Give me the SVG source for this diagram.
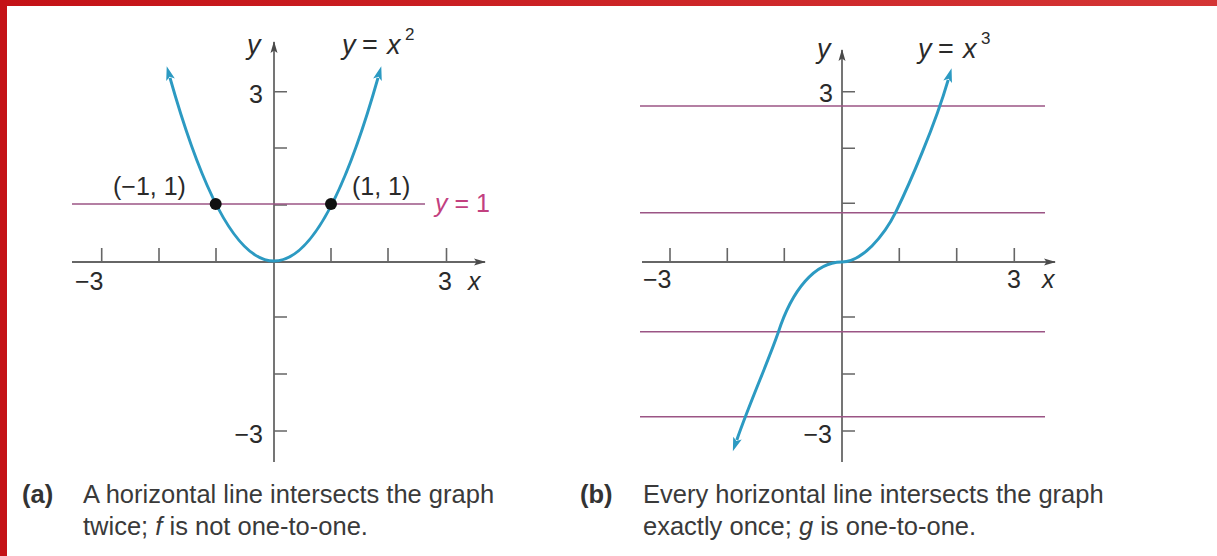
<svg xmlns="http://www.w3.org/2000/svg" width="1217" height="556" viewBox="0 0 1217 556">
<defs>
<linearGradient id="topBar" x1="0" y1="0" x2="1" y2="0">
<stop offset="0" stop-color="#c41217"/>
<stop offset="1" stop-color="#d43535"/>
</linearGradient>
<marker id="curveArrow" markerUnits="userSpaceOnUse" viewBox="-1 -6 17 12" markerWidth="17" markerHeight="12" refX="2" refY="0" orient="auto-start-reverse">
<path d="M0,-4.5 L14,0 L0,4.5 L3,0 Z" fill="#2c9ac2"/>
</marker>
<marker id="axisArrow" markerUnits="userSpaceOnUse" viewBox="0 -5 12 10" markerWidth="12" markerHeight="10" refX="11" refY="0" orient="auto">
<path d="M0,-3.5 L12,0 L0,3.5 L2.5,0 Z" fill="#4a4a4a"/>
</marker>
</defs>
<style>
.axis{stroke:#666;stroke-width:1.8;fill:none}
.tick{stroke:#666;stroke-width:1.6;fill:none}
.hline{stroke:#9b5585;stroke-width:1.6;fill:none}
.curve{stroke:#2c9ac2;stroke-width:3;fill:none}
.lbl{font-family:"Liberation Sans",Arial,sans-serif;font-size:25px;fill:#2a2a2a}
.eq{font-size:27px}
.it{font-style:italic}
.cap{font-family:"Liberation Sans",Arial,sans-serif;font-size:25.5px;fill:#3a3a3a}
.capb{font-family:"Liberation Sans",Arial,sans-serif;font-size:25.5px;font-weight:bold;fill:#333}
.sup{font-size:17px}
</style>
<rect x="0" y="0" width="1217" height="556" fill="#ffffff"/>
<g id="frame">
<rect x="0" y="0" width="1217" height="6" fill="url(#topBar)"/>
<rect x="0" y="0" width="7" height="556" fill="#c41217"/>
</g>

<g id="panel-a">
<g id="axes-a">
<line class="axis" x1="72" y1="262" x2="485" y2="262" marker-end="url(#axisArrow)"/>
<line class="axis" x1="274" y1="462" x2="274" y2="42" marker-end="url(#axisArrow)"/>
<path class="tick" d="M101.7,262v-14 M159,262v-14 M216,262v-14 M331,262v-14 M388,262v-14 M446.5,262v-14"/>
<path class="tick" d="M274,91.7h13 M274,148h13 M274,205h13 M274,317h13 M274,374h13 M274,431h13"/>
<text class="lbl" x="263" y="103" text-anchor="end">3</text>
<text class="lbl" x="263" y="443" text-anchor="end">−3</text>
<text class="lbl" x="75" y="290">−3</text>
<text class="lbl" x="438" y="290">3</text>
<text class="lbl it" x="468" y="290">x</text>
<text class="lbl eq it" x="247" y="54">y</text>
</g>
<line class="hline" x1="72" y1="204" x2="425" y2="204"/>
<path class="curve" d="M170,77.8 Q274,444.2 378,77.8" marker-start="url(#curveArrow)" marker-end="url(#curveArrow)"/>
<circle cx="215.7" cy="204" r="6" fill="#111"/>
<circle cx="331" cy="204" r="6" fill="#111"/>
<text class="lbl" x="113" y="195">(−1, 1)</text>
<text class="lbl" x="352" y="195">(1, 1)</text>
<text class="lbl" x="435" y="212" style="fill:#c2407f"><tspan class="it">y</tspan> = 1</text>
<text class="lbl eq" y="54"><tspan class="it" x="342">y</tspan><tspan x="362">=</tspan><tspan class="it" x="387">x</tspan><tspan class="sup" x="405" y="40">2</tspan></text>
<text class="capb" x="22" y="503">(a)</text>
<text class="cap" x="83" y="503">A horizontal line intersects the graph</text>
<text class="cap" x="83" y="535">twice; <tspan class="it">f</tspan> is not one-to-one.</text>
</g>

<g id="panel-b">
<g id="axes-b">
<line class="axis" x1="642" y1="262" x2="1055" y2="262" marker-end="url(#axisArrow)"/>
<line class="axis" x1="842" y1="462" x2="842" y2="50" marker-end="url(#axisArrow)"/>
<path class="tick" d="M670,262v-14 M727.3,262v-14 M784.3,262v-14 M899.3,262v-14 M956.7,262v-14 M1014.3,262v-14"/>
<path class="tick" d="M842,91.7h13 M842,148.3h13 M842,203.3h13 M842,317h13 M842,374h13 M842,431h13"/>
<text class="lbl" x="833" y="102" text-anchor="end">3</text>
<text class="lbl" x="832" y="443" text-anchor="end">−3</text>
<text class="lbl" x="643" y="288">−3</text>
<text class="lbl" x="1007" y="288">3</text>
<text class="lbl it" x="1042" y="288">x</text>
<text class="lbl eq it" x="817" y="58">y</text>
</g>
<line class="hline" x1="640" y1="106" x2="1045" y2="106"/>
<line class="hline" x1="640" y1="212.7" x2="1045" y2="212.7"/>
<line class="hline" x1="640" y1="331.7" x2="1045" y2="331.7"/>
<line class="hline" x1="640" y1="416.7" x2="1045" y2="416.7"/>
<path class="curve" d="M736.8,440 C750,402 768,362 778.3,332.3 C792,290 815,262 841.7,262 C862,262 884,236 896,211.7 C910,183 935,125 948.2,79.8" marker-start="url(#curveArrow)" marker-end="url(#curveArrow)"/>
<text class="lbl eq" y="58"><tspan class="it" x="918">y</tspan><tspan x="938">=</tspan><tspan class="it" x="963">x</tspan><tspan class="sup" x="981" y="44">3</tspan></text>
<text class="capb" x="580" y="503">(b)</text>
<text class="cap" x="643" y="503">Every horizontal line intersects the graph</text>
<text class="cap" x="643" y="535">exactly once; <tspan class="it">g</tspan> is one-to-one.</text>
</g>
</svg>
